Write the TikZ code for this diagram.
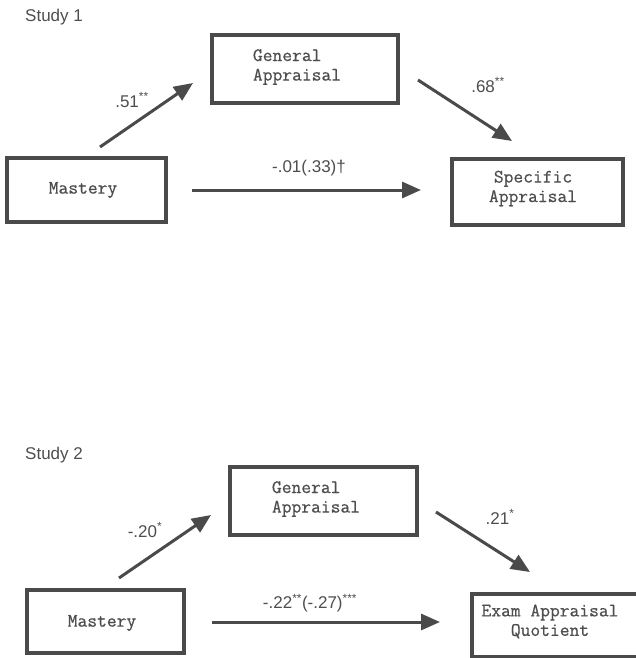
\documentclass[tikz,border=0pt]{standalone}
\usepackage{fontspec}
\setmainfont{Liberation Sans}
\newfontfamily\monofam[FakeBold=0.6]{Latin Modern Mono}
\usetikzlibrary{arrows.meta}
\definecolor{ink}{HTML}{4A4A4A}
\definecolor{txt}{HTML}{4E4E4E}
\tikzset{
  box/.style={draw=ink, line width=4pt, fill=none, inner sep=0pt},
  boxtext/.style={text=txt, font=\monofam\fontsize{19}{19.5}\selectfont, align=left, inner sep=0pt},
  lbl/.style={text=txt, font=\fontsize{17}{19}\selectfont, inner sep=0pt},
  arr/.style={draw=ink, line width=3pt, -{Triangle[length=19pt,width=16pt]}},
}
\begin{document}
\begin{tikzpicture}[x=1pt,y=-1pt]
\clip (0,0) rectangle (636,658);
\fill[white] (0,0) rectangle (636,658);

% ---------------- Study 1 ----------------
\node[lbl, anchor=west] (s1) at (25,17) {Study 1};

\node[box, minimum width=159, minimum height=64] (m1) at (86.5,190) {};
\node[boxtext] (m1t) at (83,190) {Mastery};

\node[box, minimum width=186, minimum height=68] (g1) at (305,69) {};
\node[boxtext] (g1t) at (297,67) {General\\Appraisal};

\node[box, minimum width=171, minimum height=66] (sp1) at (537.5,192) {};
\node[boxtext, align=center] (sp1t) at (533,188.5) {Specific\\Appraisal};

\coordinate (a1s) at (100,147);
\coordinate (a1e) at (193,83);
\coordinate (a2s) at (418,80);
\coordinate (a2e) at (512,141);
\coordinate (a3s) at (192,190);
\coordinate (a3e) at (421,190);
\draw[arr] (a1s) -- (a1e);
\draw[arr] (a2s) -- (a2e);
\draw[arr] (a3s) -- (a3e);

\node[lbl] (l11) at (132,100) {.51\textsuperscript{**}};
\node[lbl] (l12) at (488,85) {.68\textsuperscript{**}};
\node[lbl] (l13) at (309,168) {-.01(.33)†};

% ---------------- Study 2 ----------------
\node[lbl, anchor=west] (s2) at (25,455) {Study 2};

\node[box, minimum width=157, minimum height=63] (m2) at (105.5,621.5) {};
\node[boxtext] (m2t) at (102,623) {Mastery};

\node[box, minimum width=187, minimum height=68] (g2) at (323.5,501) {};
\node[boxtext] (g2t) at (316,499) {General\\Appraisal};

\node[box, minimum width=180, minimum height=63, anchor=north west] (e2) at (470,592) {};
\node[boxtext, align=center] (e2t) at (550,621.5) {Exam Appraisal\\Quotient};

\coordinate (b1s) at (119,578);
\coordinate (b1e) at (211,515);
\coordinate (b2s) at (436,512);
\coordinate (b2e) at (530,572);
\coordinate (b3s) at (212,622);
\coordinate (b3e) at (440,622);
\draw[arr] (b1s) -- (b1e);
\draw[arr] (b2s) -- (b2e);
\draw[arr] (b3s) -- (b3e);

\node[lbl] (l21) at (145,530) {-.20\textsuperscript{*}};
\node[lbl] (l22) at (500,517) {.21\textsuperscript{*}};
\node[lbl] (l23) at (310,603) {-.22\textsuperscript{**}(-.27)\textsuperscript{***}};
\end{tikzpicture}
\end{document}
